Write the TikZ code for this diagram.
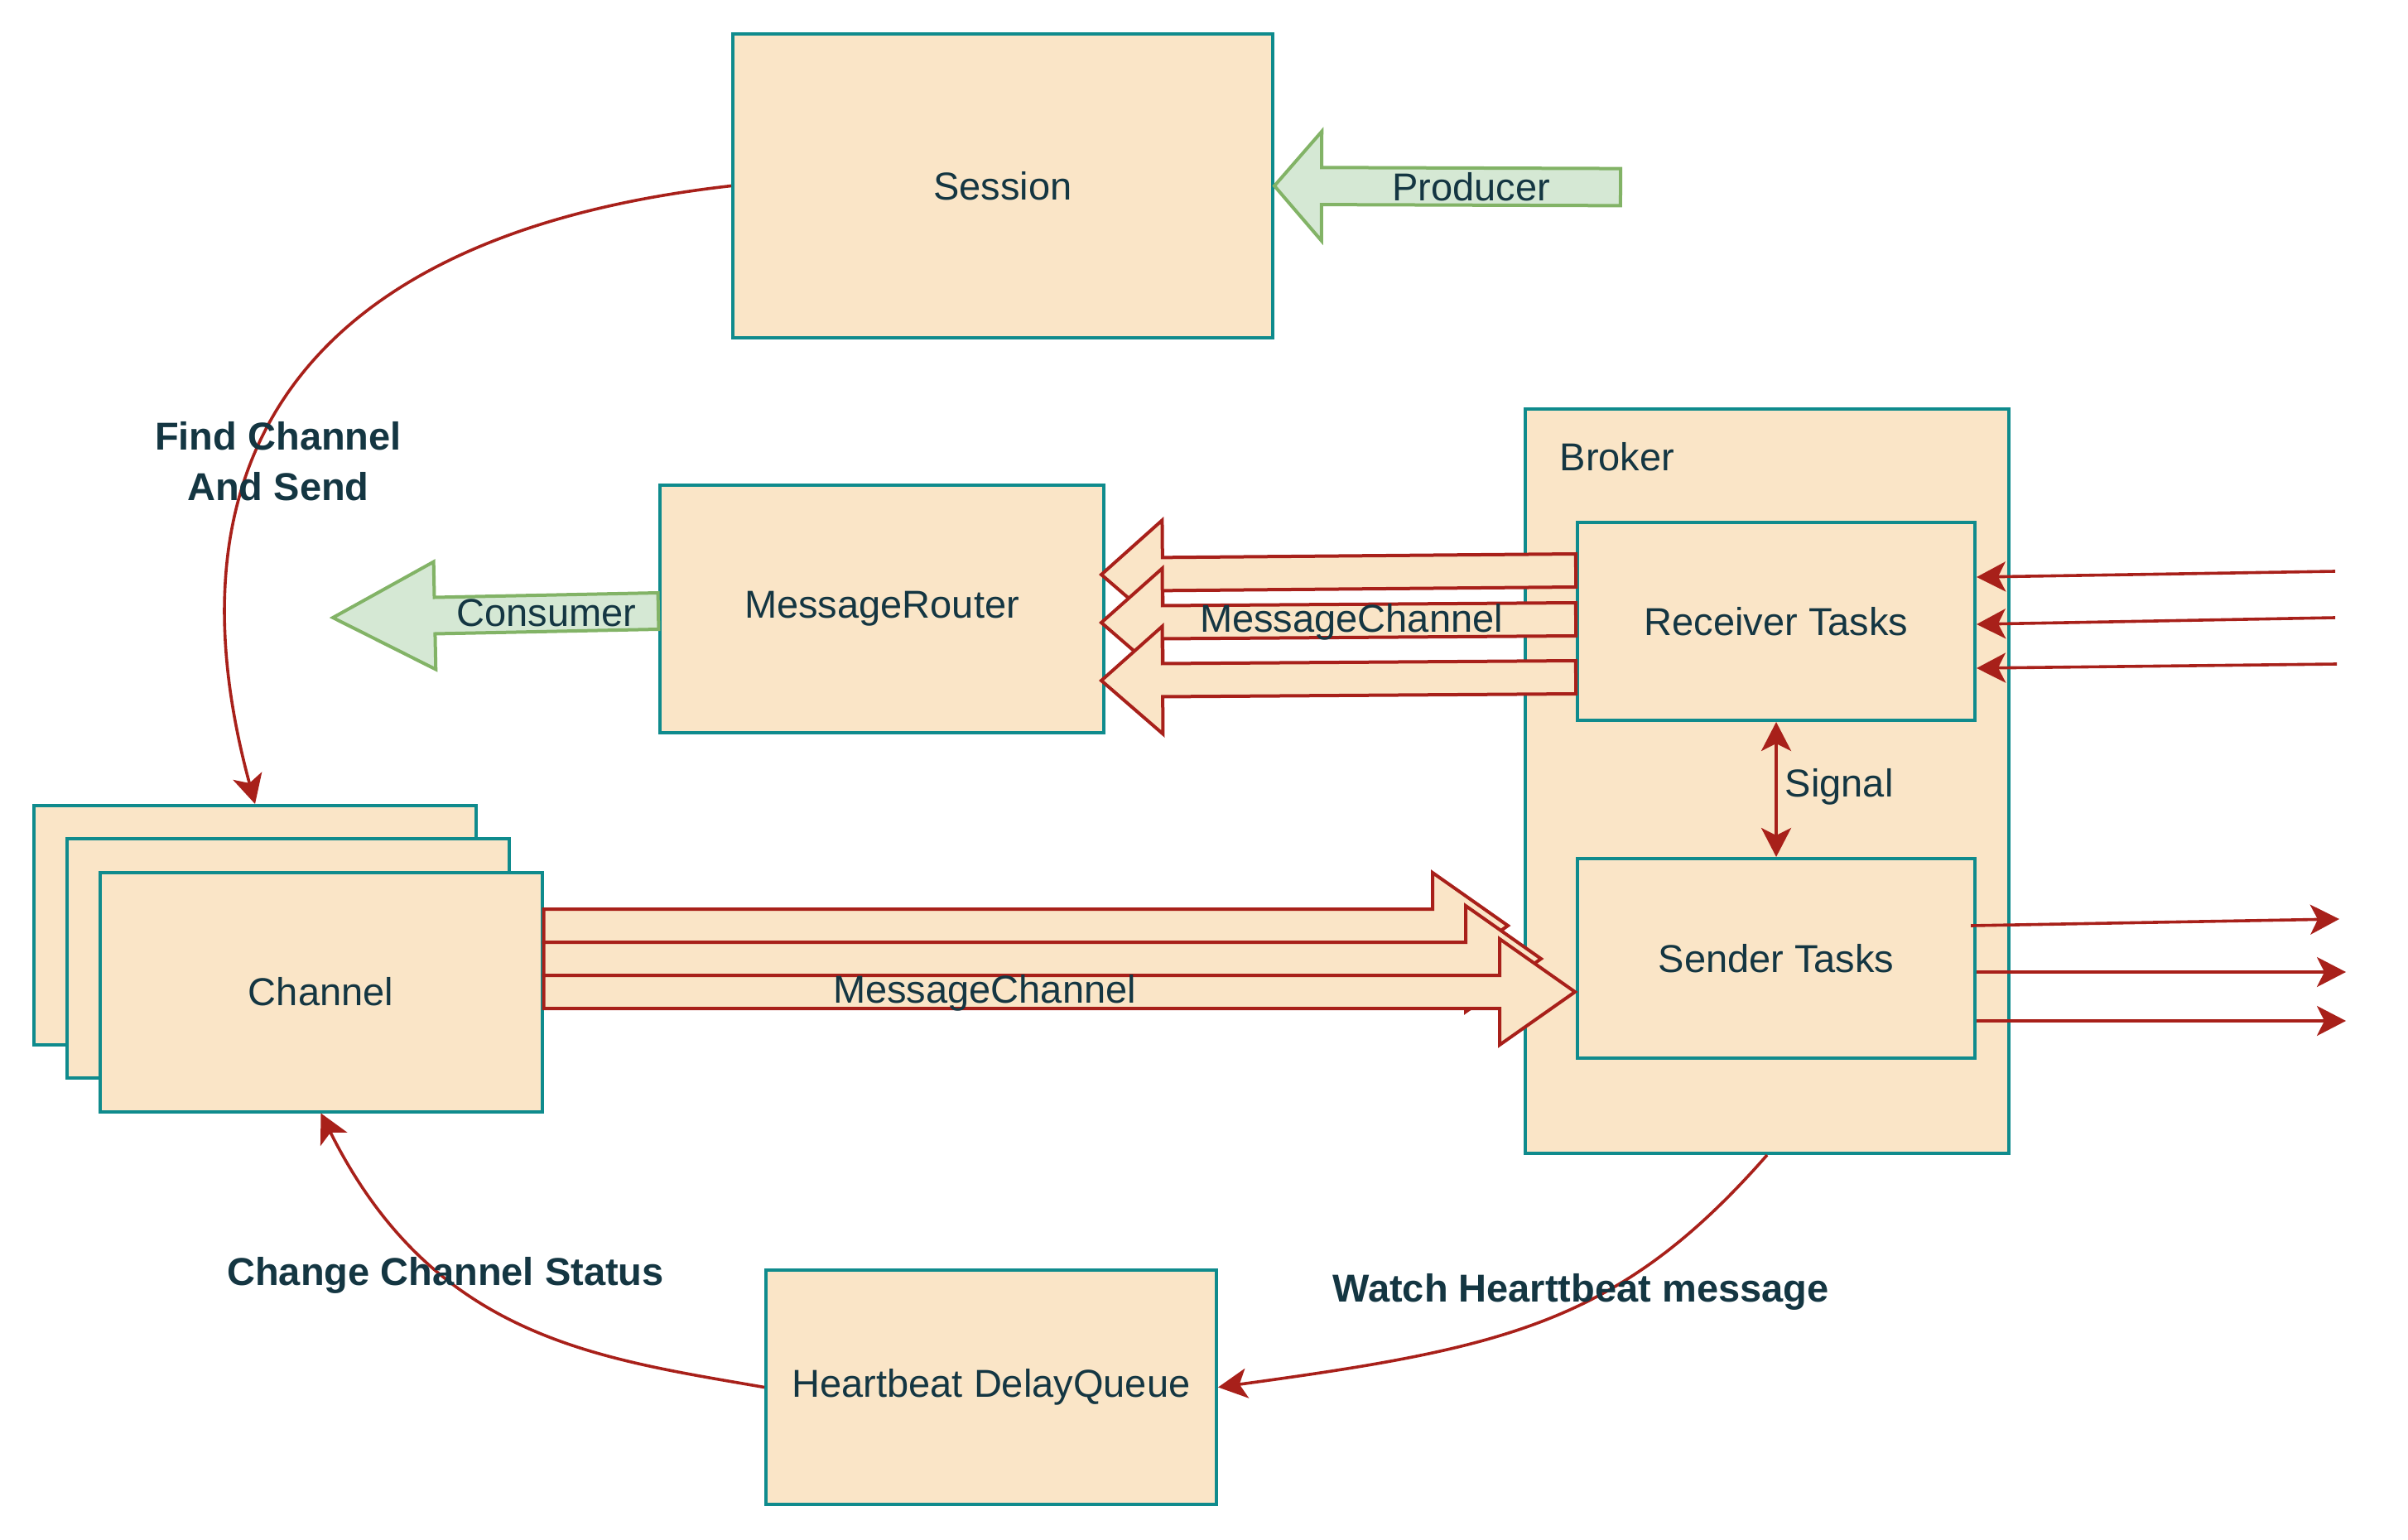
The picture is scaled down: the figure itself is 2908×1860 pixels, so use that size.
\documentclass[tikz,border=0pt]{standalone}
\usepackage{fontspec}
\setmainfont{Liberation Sans}
\usepackage{tikz}
\usetikzlibrary{arrows.meta,calc}

\definecolor{boxfill}{HTML}{FAE5C7}
\definecolor{boxline}{HTML}{0F8B8D}
\definecolor{txt}{HTML}{143642}
\definecolor{flow}{HTML}{A8201A}
\definecolor{feedfill}{HTML}{D5E8D4}
\definecolor{feedline}{HTML}{82B366}

% wide arrow: style, tail, tip, shaft half width, head half width, head length
\newcommand{\fatarrow}[6]{%
  \coordinate (fatbase) at ($(#3)!#6!(#2)$);
  \filldraw[#1] ($(#2)!#4!90:(#3)$) -- ($(fatbase)!#4!90:(#3)$) -- ($(fatbase)!#5!90:(#3)$) -- (#3)
    -- ($(fatbase)!#5!-90:(#3)$) -- ($(fatbase)!#4!-90:(#3)$) -- ($(#2)!#4!-90:(#3)$) -- cycle;}

\begin{document}
\begin{tikzpicture}[x=0.25pt,y=-0.25pt,
    >={Stealth[length=8.75pt,width=9pt,inset=2.25pt]},
    box/.style={draw=boxline,fill=boxfill,line width=1pt,text=txt,inner sep=0pt,
      font=\fontsize{11.75}{14}\selectfont},
    lbl/.style={text=txt,inner sep=0pt,font=\fontsize{11.75}{15.25}\selectfont},
    tag/.style={text=txt,inner sep=0pt,align=center,font=\fontsize{11.75}{15.25}\selectfont\bfseries},
    link/.style={draw=flow,line width=0.9pt},
    fat/.style={draw=flow,fill=boxfill,line width=1pt},
    feed/.style={draw=feedline,fill=feedfill,line width=1pt}]
  \useasboundingbox (0,0) rectangle (2908,1860);

  % boxes
  \node[box,minimum width=163pt,minimum height=91.75pt] (session) at (1211,224.5) {Session};
  \node[box,minimum width=134pt,minimum height=74.75pt] (router) at (1065,735.5) {MessageRouter};
  \node[box,minimum width=146pt,minimum height=224.75pt] (broker) at (2134,943.5) {};
  \node[lbl,anchor=west] (brokerlbl) at (1883,552) {Broker};
  \node[box,minimum width=120pt,minimum height=59.75pt] (recv) at (2145,750.5) {Receiver Tasks};
  \node[box,minimum width=120pt,minimum height=60.25pt] (send) at (2145,1157.5) {Sender Tasks};
  \node[box,minimum width=133.5pt,minimum height=72.25pt] (back) at (308,1117.5) {};
  \node[box,minimum width=133.5pt,minimum height=72.25pt] (middle) at (348,1157.5) {};
  \node[box,minimum width=133.5pt,minimum height=72.25pt] (front) at (387.5,1198) {Channel};
  \node[box,minimum width=136pt,minimum height=70.75pt] (hdq) at (1197,1675.5) {Heartbeat DelayQueue};

  % producer / consumer
  \coordinate (prodtail) at (1957,226);
  \fatarrow{feed}{prodtail}{session.east}{5.6pt}{16.5pt}{14.25pt}
  \node[lbl] (prodlbl) at ($(prodtail)!0.5!(fatbase)$) {Producer};
  \coordinate (constail) at ($(router.west)+(0,2.5)$);
  \coordinate (constip) at (402,746);
  \fatarrow{feed}{constail}{constip}{5.5pt}{16.25pt}{30.75pt}
  \node[lbl] (conslbl) at ($(constail)!0.5!(fatbase)$) {Consumer};

  % message channels
  \foreach \i/\a/\b in {1/-61.5/-41.5, 2/-2.5/16.5, 3/67.5/86.5} {
    \coordinate (mt\i) at ($(recv.west)+(0,\a)$);
    \coordinate (mh\i) at ($(router.east)+(-5,\b)$);
    \fatarrow{fat}{mt\i}{mh\i}{5pt}{16.25pt}{18.5pt}
  }
  \node[lbl] (upchan) at (1632,751) {MessageChannel};
  \foreach \i/\a/\dx/\b in {1/-80/-82/-39.5, 2/-40/-42/0.5, 3/0/-1/40.5} {
    \coordinate (ct\i) at ($(front.east)+(0,\a)$);
    \coordinate (ch\i) at ($(send.west)+(\dx,\b)$);
    \fatarrow{fat}{ct\i}{ch\i}{5pt}{16pt}{22.75pt}
  }
  \node[lbl] (downchan) at (1189,1199) {MessageChannel};

  % broker in and out
  \foreach \i/\sx/\sy/\off in {1/2820/690/-53.5, 2/2820/746/3.5, 3/2822/802/56.5} {
    \coordinate (in\i) at (\sx,\sy);
    \draw[link,->] (in\i) -- ($(recv.east)+(0,\off)$);
  }
  \foreach \i/\dx/\off/\ex/\ey in {1/-7/-39.5/2825/1110, 2/0/16.5/2833/1174, 3/0/75.5/2833/1233} {
    \coordinate (out\i) at (\ex,\ey);
    \draw[link,->] ($(send.east)+(\dx,\off)$) -- (out\i);
  }
  \draw[link,<->] (recv.south) -- (send.north);
  \node[lbl,anchor=west] (signal) at (2155,950) {Signal};

  % curved links
  \draw[link,->] (session.west) .. controls +(-480,54) and +(-122,-450) .. (back.north);
  \node[tag] (findlbl) at (336,557) {Find Channel\\And Send};
  \draw[link,->] (hdq.west) .. controls +(-205,-35.5) and +(135.5,271) .. (front.south);
  \node[tag] (changelbl) at (538,1540) {Change Channel Status};
  \draw[link,->] (broker.south) .. controls +(-178,203) and +(348,-47.5) .. (hdq.east);
  \node[tag] (watchlbl) at (1909,1560) {Watch Hearttbeat message};
\end{tikzpicture}
\end{document}
